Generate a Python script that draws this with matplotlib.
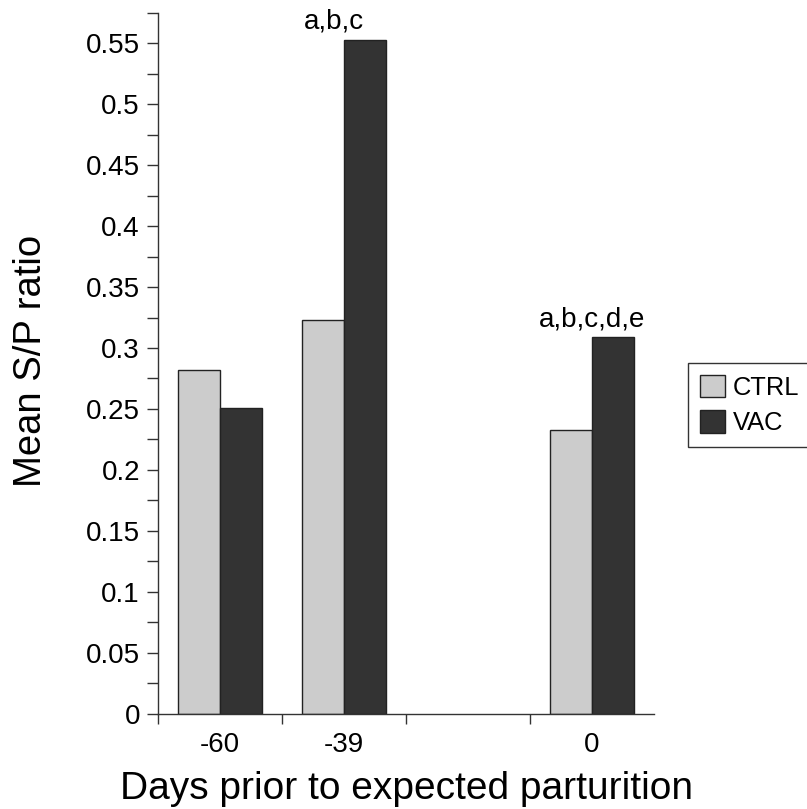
import matplotlib
matplotlib.use("Agg")
import matplotlib.pyplot as plt
import numpy as np
from matplotlib.ticker import MultipleLocator, FixedLocator, NullFormatter

plt.rcParams['font.family'] = ['Liberation Sans', 'DejaVu Sans']

categories = ['-60', '-39', '', '0']
ctrl = [0.282, 0.323, None, 0.233]
vac = [0.251, 0.553, None, 0.309]
series_names = ['CTRL', 'VAC']
series_colors = ['#cccccc', '#333333']
annot_texts = ['a,b,c', 'a,b,c,d,e']
annot_slots = [1, 3]
annot_values = [0.553, 0.309]
annot_dx = [-0.08, 0.0]
x_label = 'Days prior to expected parturition'
y_label = 'Mean S/P ratio'

fig = plt.figure(figsize=(8.07, 8.09), dpi=100)
W, H = 807, 809
left, right, bottom, top = 158, 654, 713.5, 13
ax = fig.add_axes([left / W, 1 - bottom / H, (right - left) / W, (bottom - top) / H])

x = np.arange(len(categories))
bw = 0.335
for vals, off, name, col in [(ctrl, -bw / 2, series_names[0], series_colors[0]),
                              (vac, bw / 2, series_names[1], series_colors[1])]:
    xs = [xi + off for xi, v in zip(x, vals) if v is not None]
    ys = [v for v in vals if v is not None]
    ax.bar(xs, ys, width=bw, color=col, edgecolor='#222222', linewidth=1.0, label=name)

for t, s, v, dx in zip(annot_texts, annot_slots, annot_values, annot_dx):
    ax.text(s + dx, v + 0.004, t, ha='center', va='bottom', fontsize=20)

ax.set_xlim(-0.5, len(categories) - 0.5)
ax.set_ylim(0, 0.575)

ax.yaxis.set_minor_locator(FixedLocator(np.arange(0.025, 0.58, 0.05)))
yt = np.arange(0, 0.56, 0.05)
ax.set_yticks(yt)
ax.set_yticklabels(['0' if abs(v) < 1e-9 else ('%g' % round(v, 3)) for v in yt], fontsize=20)
ax.tick_params(axis='y', which='both', direction='out', length=8, width=1, pad=5, color='#333333')

ax.xaxis.set_major_locator(FixedLocator(np.arange(-0.5, len(categories) - 1, 1.0)))
ax.xaxis.set_major_formatter(NullFormatter())
ax.set_xticks([i for i, c in enumerate(categories) if c], minor=True)
ax.set_xticklabels([c for c in categories if c], minor=True, fontsize=20)
ax.tick_params(axis='x', which='major', direction='out', length=7, width=1, color='#333333')
ax.tick_params(axis='x', which='minor', length=0, pad=13)

for s in ['top', 'right']:
    ax.spines[s].set_visible(False)
for s in ['left', 'bottom']:
    ax.spines[s].set_linewidth(1.0)
    ax.spines[s].set_color('#333333')

ax.set_xlabel(x_label, fontsize=28, labelpad=10)
fig.text(31 / W, 1 - 361 / H, y_label, fontsize=27.5, rotation=90, ha='center', va='center')

leg = fig.legend(loc='upper left', bbox_to_anchor=(688 / W, 1 - 363 / H), fontsize=18.4,
                 frameon=True, fancybox=False, edgecolor='black', handlelength=1.0,
                 handleheight=1.0, handletextpad=0.3, labelspacing=0.4, borderpad=0.45,
                 borderaxespad=0)
leg.get_frame().set_linewidth(1.0)

fig.savefig('out.png', dpi=100)
